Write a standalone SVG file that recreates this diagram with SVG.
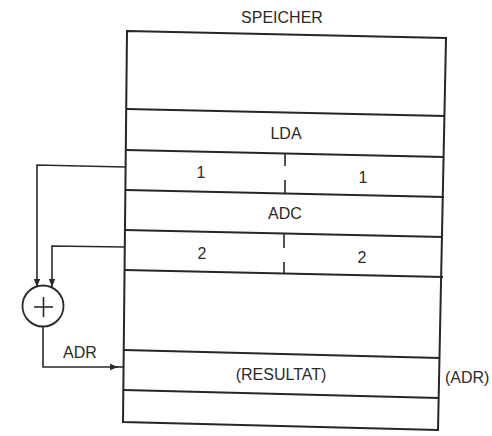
<svg xmlns="http://www.w3.org/2000/svg" width="492" height="436" viewBox="0 0 492 436">
  <style>
    .frame { fill: none; stroke: #262626; stroke-width: 2; }
    .row { fill: none; stroke: #262626; stroke-width: 1.8; }
    .div { fill: none; stroke: #262626; stroke-width: 1.6; }
    .conn { fill: none; stroke: #2a2a2a; stroke-width: 1.6; }
    .t { font-family: "Liberation Sans", Arial, sans-serif; font-size: 16px; fill: #2a2a2a; }
    .c { text-anchor: middle; }
  </style>
  <defs>
    <marker id="arr" viewBox="0 0 10 10" refX="10" refY="5" markerWidth="8" markerHeight="8" markerUnits="userSpaceOnUse" orient="auto">
      <path d="M0,1 L10,5 L0,9 Z" fill="#2a2a2a"/>
    </marker>
  </defs>

  <text class="t c" x="282" y="23">SPEICHER</text>

  <g id="speicher">
    <polygon class="frame" points="127,31 446,38 438,430 123,422"/>
    <line class="row" x1="127" y1="109" x2="445" y2="116"/>
    <line class="row" x1="126" y1="150" x2="444" y2="157"/>
    <line class="row" x1="126" y1="190" x2="444" y2="197"/>
    <line class="row" x1="125" y1="230" x2="443" y2="237"/>
    <line class="row" x1="125" y1="270" x2="443" y2="277"/>
    <line class="row" x1="124" y1="350" x2="440" y2="358"/>
    <line class="row" x1="124" y1="390" x2="439" y2="398"/>
  </g>

  <g id="cell-lda">
    <text class="t c" x="286" y="139">LDA</text>
  </g>
  <g id="cell-1">
    <line class="div" x1="285" y1="154" x2="285" y2="166"/>
    <line class="div" x1="285" y1="180" x2="285" y2="194"/>
    <text class="t c" x="201" y="178">1</text>
    <text class="t c" x="363" y="183">1</text>
  </g>
  <g id="cell-adc">
    <text class="t c" x="285" y="219">ADC</text>
  </g>
  <g id="cell-2">
    <line class="div" x1="284" y1="234" x2="284" y2="248"/>
    <line class="div" x1="284" y1="262" x2="284" y2="274"/>
    <text class="t c" x="202" y="259">2</text>
    <text class="t c" x="362" y="263">2</text>
  </g>
  <g id="cell-resultat">
    <text class="t c" x="281" y="380">(RESULTAT)</text>
  </g>
  <g id="label-adr-right">
    <text class="t" x="445" y="383">(ADR)</text>
  </g>

  <g id="adder">
    <circle cx="43" cy="306" r="20.5" fill="none" stroke="#2a2a2a" stroke-width="1.8"/>
    <line class="conn" x1="34" y1="307" x2="53" y2="307"/>
    <line class="conn" x1="43.5" y1="297" x2="43.5" y2="317"/>
  </g>

  <g id="connectors">
    <path class="conn" d="M125,167 L37,165 L37,287" marker-end="url(#arr)"/>
    <path class="conn" d="M125,247 L52,246 L52,287" marker-end="url(#arr)"/>
    <path class="conn" d="M43,327 L43,367 L118,367" marker-end="url(#arr)"/>
    <line class="conn" x1="116" y1="367" x2="123" y2="367"/>
    <text class="t c" x="80" y="358">ADR</text>
  </g>
</svg>
